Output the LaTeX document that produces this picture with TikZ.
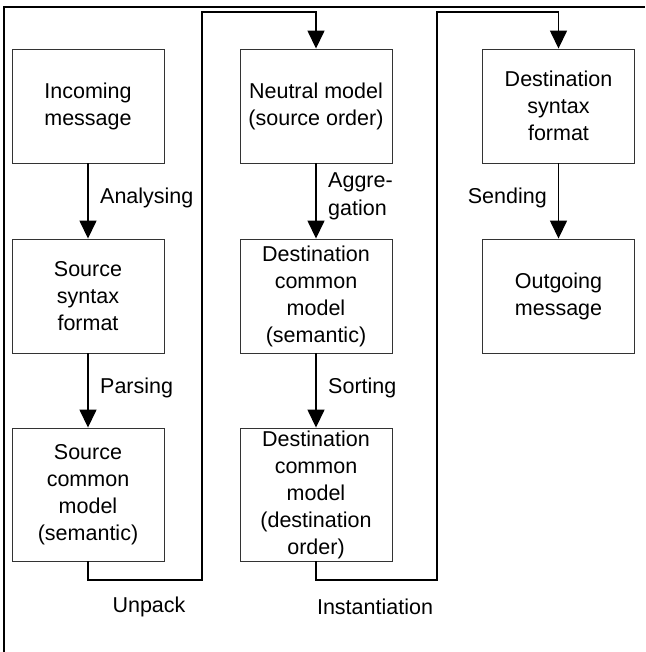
\documentclass[tikz,border=0pt]{standalone}
\usepackage{fontspec}
\setmainfont{Liberation Sans}
\usetikzlibrary{arrows.meta}
\begin{document}
\begin{tikzpicture}[x=1pt,y=-1pt,
  box/.style={draw=black!80, line width=0.9pt, minimum width=152pt, inner sep=0pt, align=center, font=\fontsize{21.5}{27}\selectfont},
  rowa/.style={box, minimum height=114pt},
  rowb/.style={box, minimum height=133pt},
  arr/.style={line width=1.5pt, -{Triangle[length=18pt,width=17pt]}},
  lbl/.style={inner sep=0pt, font=\fontsize{21.5}{28}\selectfont}]
\useasboundingbox (0,0) rectangle (645,652);
\draw[line width=2pt] (4,652) -- (4,7) -- (645,7);
\node[rowa] (b1) at (88,106) {Incoming\\message};
\node[rowa] (b2) at (88,296) {Source\\syntax\\format};
\node[rowb] (b3) at (88,494.5) {Source\\common\\model\\(semantic)};
\node[rowa] (b4) at (316,106) {Neutral model\\(source order)};
\node[rowa] (b5) at (316,296) {Destination\\common\\model\\(semantic)};
\node[rowb] (b6) at (316,494.5) {Destination\\common\\model\\(destination\\order)};
\node[rowa] (b7) at (558.5,106) {Destination\\syntax\\format};
\node[rowa] (b8) at (558.5,296) {Outgoing\\message};
\coordinate (u1) at (202,580);
\coordinate (u2) at (202,12);
\coordinate (i1) at (437,580);
\coordinate (i2) at (437,12);
\draw[arr] (b1) -- (b2);
\draw[arr] (b2) -- (b3);
\draw[arr] (b4) -- (b5);
\draw[arr] (b5) -- (b6);
\draw[arr] (b7) -- (b8);
\draw[arr] (b3.south) |- (u1) -- (u2) -| (b4.north);
\draw[arr] (b6.south) |- (i1) -- (i2) -| (b7.north);
\node[lbl, anchor=west] (la) at (100,198) {Analysing};
\node[lbl, anchor=west] (lp) at (100,388) {Parsing};
\node[lbl, anchor=west, align=left] (lg) at (328,196) {Aggre-\\gation};
\node[lbl, anchor=west] (ls) at (328,388) {Sorting};
\node[lbl, anchor=east] (lse) at (547,198) {Sending};
\node[lbl] (lu) at (149,607) {Unpack};
\node[lbl] (li) at (375,607) {Instantiation};
\end{tikzpicture}
\end{document}
